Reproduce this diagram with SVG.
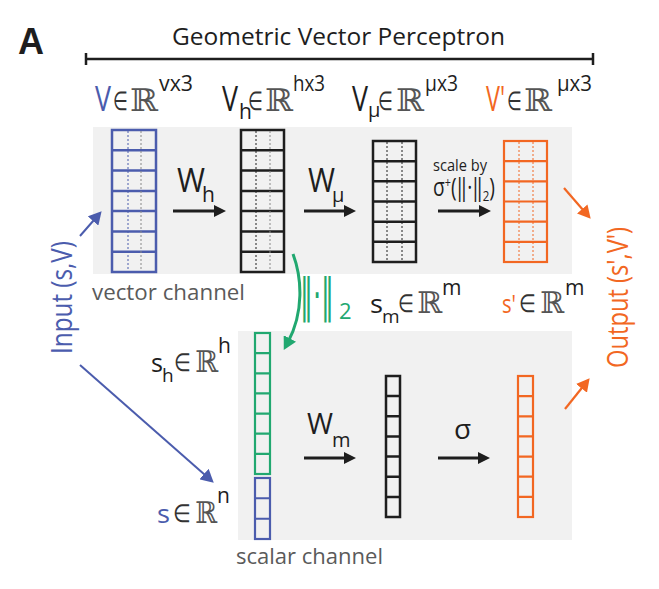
<svg xmlns="http://www.w3.org/2000/svg" width="659" height="589" viewBox="0 0 659 589">
<style>
.sans{font-family:"Open Sans","Noto Sans","DejaVu Sans",sans-serif}
.rr{font-family:"DejaVu Serif","DejaVu Sans",serif;fill:#555}
.el{font-family:"DejaVu Sans",sans-serif;font-weight:200;fill:#333}
.blue{fill:#4b5cad}.orange{fill:#f26722}.green{fill:#21a870}.dark{fill:#1e1e1e}
.panel{fill:#f1f1f1}
.mb{fill:none;stroke:#4b5cad;stroke-width:2.5}
.mk{fill:none;stroke:#1e1e1e;stroke-width:2.5}
.mo{fill:none;stroke:#f26722;stroke-width:2.2}
.mg{fill:none;stroke:#21a870;stroke-width:2.2}
.d1{stroke-width:1;stroke-dasharray:2,2}
.arr{stroke:#1e1e1e;stroke-width:3;fill:none}
</style>
<defs>
<marker id="ak" markerUnits="userSpaceOnUse" markerWidth="14" markerHeight="12" refX="4" refY="6" orient="auto"><path d="M0,0 L12,6 L0,12 z" fill="#1e1e1e"/></marker>
<marker id="ab" markerUnits="userSpaceOnUse" markerWidth="14" markerHeight="14" refX="4" refY="7" orient="auto"><path d="M0,0 L13,7 L0,14 z" fill="#4b5cad"/></marker>
<marker id="ao" markerUnits="userSpaceOnUse" markerWidth="14" markerHeight="14" refX="4" refY="7" orient="auto"><path d="M0,0 L13,7 L0,14 z" fill="#f26722"/></marker>
<marker id="ag" markerUnits="userSpaceOnUse" markerWidth="14" markerHeight="14" refX="4" refY="7" orient="auto"><path d="M0,0 L13,7 L0,14 z" fill="#21a870"/></marker>
</defs>

<g id="title">
<text x="18" y="54" font-family="Liberation Sans,Arial,sans-serif" font-weight="bold" font-size="36" class="dark">A</text>
<text x="172" y="45" class="sans dark" font-size="24" textLength="333" lengthAdjust="spacingAndGlyphs">Geometric Vector Perceptron</text>
<path d="M86,59 H593 M86,53 V65 M593,53 V65" stroke="#1e1e1e" stroke-width="2.5" fill="none"/>
</g>

<g id="panels">
<rect class="panel" x="93" y="127" width="479" height="147"/>
<rect class="panel" x="238" y="331" width="334" height="209"/>
<text x="92" y="300" class="sans" fill="#5a5a5a" font-size="21" textLength="153" lengthAdjust="spacingAndGlyphs">vector channel</text>
<text x="236" y="564" class="sans" fill="#5a5a5a" font-size="21" textLength="147" lengthAdjust="spacingAndGlyphs">scalar channel</text>
</g>

<g id="node-V">
<text x="95" y="111" class="sans blue" font-size="34" textLength="16" lengthAdjust="spacingAndGlyphs">V</text>
<text x="113" y="110" class="el" font-size="26" textLength="15" lengthAdjust="spacingAndGlyphs">∈</text>
<text x="130" y="111" class="rr" font-size="31" textLength="28" lengthAdjust="spacingAndGlyphs">ℝ</text>
<text x="159" y="91" class="sans dark" font-size="22" textLength="34" lengthAdjust="spacingAndGlyphs">vx3</text>
<rect class="mb" x="112" y="130" width="44" height="142"/>
<path class="mb" stroke-width="2" d="M112,150.3H156M112,170.6H156M112,190.9H156M112,211.1H156M112,231.4H156M112,251.7H156"/>
<path class="d1" stroke="#4b5cad" d="M128,131V271"/>
<path class="d1" stroke="#888" d="M141,131V271"/>
</g>

<g id="node-Vh">
<text x="222" y="111" class="sans dark" font-size="34" textLength="16" lengthAdjust="spacingAndGlyphs">V</text>
<text x="239" y="119" class="sans dark" font-size="21">h</text>
<text x="248" y="110" class="el" font-size="26" textLength="15" lengthAdjust="spacingAndGlyphs">∈</text>
<text x="265" y="111" class="rr" font-size="31" textLength="28" lengthAdjust="spacingAndGlyphs">ℝ</text>
<text x="293" y="91" class="sans dark" font-size="22" textLength="32" lengthAdjust="spacingAndGlyphs">hx3</text>
<rect class="mk" x="241" y="130" width="43" height="142"/>
<path class="mk" stroke-width="2" d="M241,150.3H284M241,170.6H284M241,190.9H284M241,211.1H284M241,231.4H284M241,251.7H284"/>
<path class="d1" stroke="#1e1e1e" d="M256,131V271"/>
<path class="d1" stroke="#888" d="M270,131V271"/>
</g>

<g id="node-Vmu">
<text x="352" y="111" class="sans dark" font-size="34" textLength="16" lengthAdjust="spacingAndGlyphs">V</text>
<text x="368" y="117" class="sans dark" font-size="20">μ</text>
<text x="378" y="110" class="el" font-size="26" textLength="15" lengthAdjust="spacingAndGlyphs">∈</text>
<text x="396" y="111" class="rr" font-size="31" textLength="28" lengthAdjust="spacingAndGlyphs">ℝ</text>
<text x="425" y="91" class="sans dark" font-size="22" textLength="33" lengthAdjust="spacingAndGlyphs">μx3</text>
<rect class="mk" x="373" y="141" width="43" height="121"/>
<path class="mk" stroke-width="2" d="M373,161.2H416M373,181.3H416M373,201.5H416M373,221.7H416M373,241.8H416"/>
<path class="d1" stroke="#1e1e1e" d="M387,142V261"/>
<path class="d1" stroke="#1e1e1e" d="M402,142V261"/>
</g>

<g id="node-Vprime">
<text x="486" y="111" class="sans orange" font-size="34" textLength="19" lengthAdjust="spacingAndGlyphs">V'</text>
<text x="507" y="110" class="el" font-size="26" textLength="15" lengthAdjust="spacingAndGlyphs">∈</text>
<text x="524" y="111" class="rr" font-size="31" textLength="28" lengthAdjust="spacingAndGlyphs">ℝ</text>
<text x="557" y="91" class="sans dark" font-size="22" textLength="35" lengthAdjust="spacingAndGlyphs">μx3</text>
<rect class="mo" x="504" y="141" width="43" height="121"/>
<path class="mo" stroke-width="2" d="M504,161.2H547M504,181.3H547M504,201.5H547M504,221.7H547M504,241.8H547"/>
<path class="d1" stroke="#f26722" d="M519,142V261"/>
<path class="d1" stroke="#f26722" d="M533,142V261"/>
</g>

<g id="node-sh">
<text x="151" y="372" class="sans dark" font-size="25" textLength="12" lengthAdjust="spacingAndGlyphs">s</text>
<text x="162" y="382" class="sans dark" font-size="19">h</text>
<text x="174" y="371" class="el" font-size="25" textLength="17" lengthAdjust="spacingAndGlyphs">∈</text>
<text x="195" y="372" class="rr" font-size="30" textLength="23" lengthAdjust="spacingAndGlyphs">ℝ</text>
<text x="218" y="353" class="sans dark" font-size="21">h</text>
<rect class="mg" x="255" y="333" width="15" height="141"/>
<path class="mg" d="M255,353.1H270M255,373.3H270M255,393.4H270M255,413.6H270M255,433.7H270M255,453.9H270"/>
</g>

<g id="node-s">
<text x="157" y="523" class="sans blue" font-size="25" textLength="13" lengthAdjust="spacingAndGlyphs">s</text>
<text x="173" y="522" class="el" font-size="25" textLength="18" lengthAdjust="spacingAndGlyphs">∈</text>
<text x="195" y="523" class="rr" font-size="30" textLength="22" lengthAdjust="spacingAndGlyphs">ℝ</text>
<text x="217" y="503" class="sans dark" font-size="21">n</text>
<rect x="255" y="478" width="15" height="61" fill="none" stroke="#4b5cad" stroke-width="2.2"/>
<path d="M255,498.3H270M255,518.7H270" fill="none" stroke="#4b5cad" stroke-width="2"/>
</g>

<g id="node-sm">
<text x="370" y="313" class="sans dark" font-size="25" textLength="13" lengthAdjust="spacingAndGlyphs">s</text>
<text x="382" y="323" class="sans dark" font-size="19">m</text>
<text x="398" y="312" class="el" font-size="25" textLength="16" lengthAdjust="spacingAndGlyphs">∈</text>
<text x="417" y="313" class="rr" font-size="30" textLength="25" lengthAdjust="spacingAndGlyphs">ℝ</text>
<text x="442" y="295" class="sans dark" font-size="21">m</text>
<rect class="mk" x="386" y="376" width="14" height="141"/>
<path class="mk" stroke-width="2" d="M386,396.1H400M386,416.3H400M386,436.4H400M386,456.6H400M386,476.7H400M386,496.9H400"/>
</g>

<g id="node-sprime">
<text x="502" y="313" class="sans orange" font-size="25" textLength="14" lengthAdjust="spacingAndGlyphs">s'</text>
<text x="519" y="312" class="el" font-size="25" textLength="17" lengthAdjust="spacingAndGlyphs">∈</text>
<text x="540" y="313" class="rr" font-size="30" textLength="24" lengthAdjust="spacingAndGlyphs">ℝ</text>
<text x="565" y="295" class="sans dark" font-size="21">m</text>
<rect class="mo" x="518" y="376" width="15" height="141"/>
<path class="mo" stroke-width="2" d="M518,396.1H533M518,416.3H533M518,436.4H533M518,456.6H533M518,476.7H533M518,496.9H533"/>
</g>

<g id="node-input">
<text transform="translate(72,354) rotate(-90)" class="sans blue" font-size="29" textLength="113" lengthAdjust="spacingAndGlyphs">Input (s,V)</text>
</g>
<g id="node-output">
<text transform="translate(628,368) rotate(-90)" class="sans orange" font-size="29" textLength="141" lengthAdjust="spacingAndGlyphs">Output (s',V')</text>
</g>

<g id="connectors">
<line class="arr" x1="173" y1="211" x2="218" y2="211" marker-end="url(#ak)"/>
<line class="arr" x1="304" y1="211" x2="348" y2="211" marker-end="url(#ak)"/>
<line class="arr" x1="438" y1="211" x2="483" y2="211" marker-end="url(#ak)"/>
<line class="arr" x1="304" y1="458" x2="348" y2="458" marker-end="url(#ak)"/>
<line class="arr" x1="438" y1="458" x2="482" y2="458" marker-end="url(#ak)"/>
<line x1="80" y1="236" x2="95.7" y2="218" stroke="#4b5cad" stroke-width="2" marker-end="url(#ab)"/>
<line x1="80" y1="365" x2="207" y2="476.7" stroke="#4b5cad" stroke-width="2" marker-end="url(#ab)"/>
<line x1="564" y1="188" x2="584.8" y2="212" stroke="#f26722" stroke-width="2.2" marker-end="url(#ao)"/>
<line x1="565" y1="409" x2="584" y2="385.2" stroke="#f26722" stroke-width="2.2" marker-end="url(#ao)"/>
<path d="M293,254 C302,278 304,312 288,342" fill="none" stroke="#21a870" stroke-width="3" marker-end="url(#ag)"/>
</g>

<g id="labels">
<text x="177" y="192" class="sans dark" font-size="32" textLength="28" lengthAdjust="spacingAndGlyphs">W</text>
<text x="202" y="202" class="sans dark" font-size="21">h</text>
<text x="308" y="192" class="sans dark" font-size="32" textLength="27" lengthAdjust="spacingAndGlyphs">W</text>
<text x="332" y="202" class="sans dark" font-size="20">μ</text>
<text x="433" y="171" class="sans dark" font-size="16" textLength="54" lengthAdjust="spacingAndGlyphs">scale by</text>
<text x="433" y="196" class="sans dark" font-size="25" textLength="62" lengthAdjust="spacingAndGlyphs">σ<tspan font-size="14" dy="-8">+</tspan><tspan dy="8">(‖·‖</tspan><tspan font-size="15" dy="5">2</tspan><tspan dy="-5">)</tspan></text>
<text x="307" y="434" class="sans dark" font-size="29" textLength="26" lengthAdjust="spacingAndGlyphs">W</text>
<text x="332" y="447" class="sans dark" font-size="20">m</text>
<text x="454" y="439" class="sans dark" font-size="28">σ</text>
<text x="300" y="311" class="green" font-family="DejaVu Sans,sans-serif" font-size="46" textLength="34" lengthAdjust="spacingAndGlyphs">‖·‖</text>
<text x="339" y="319" class="sans green" font-size="22">2</text>
</g>
</svg>
